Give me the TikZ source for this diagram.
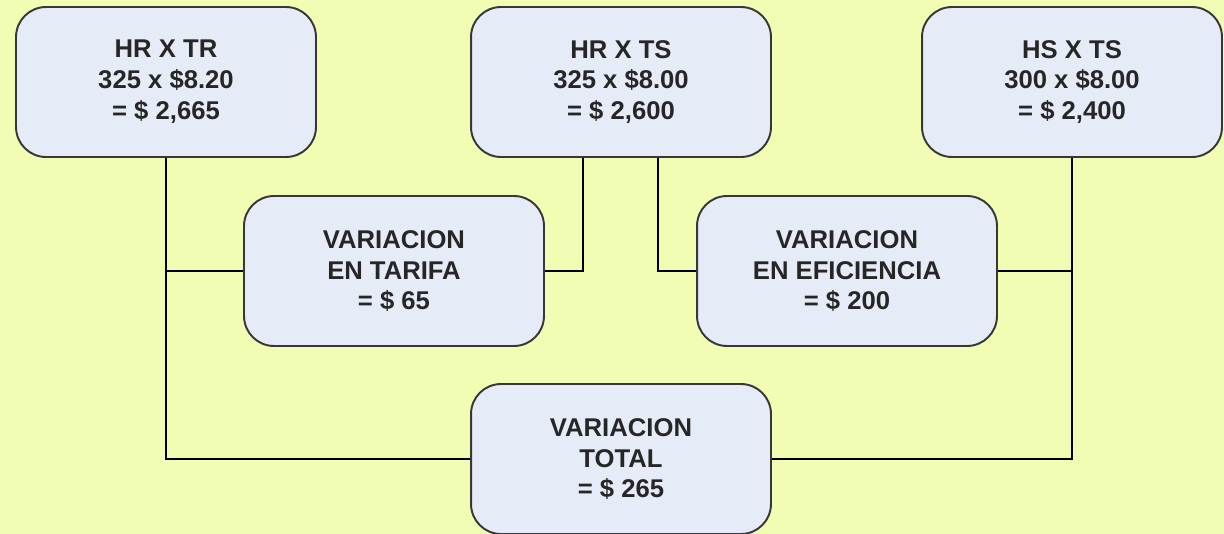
\documentclass[tikz,border=0pt]{standalone}
\usepackage{fontspec}
\setmainfont{Liberation Sans}
\usepackage{tikz}
\definecolor{Fondo}{RGB}{242,253,180}
\definecolor{LBlue}{RGB}{230,236,247}
\definecolor{DGray}{RGB}{55,55,55}
\tikzset{caja/.style={draw=DGray,fill=LBlue,line width=1.1pt,rounded corners=0.6cm,
  minimum width=6cm,minimum height=3cm,align=center,
  font=\fontsize{14.6}{17.6}\selectfont\bfseries,text=black!85},
  linea/.style={draw=black,line width=1.3pt}}

\begin{document}
\begin{tikzpicture}[x=0.02cm,y=-0.02cm]
\fill[Fondo] (0,0) rectangle (1224,534);
\useasboundingbox (0,0) rectangle (1224,534);

\node[caja] (hrtr) at (166,82) {HR X TR\\325 x \$8.20\\= \$ 2,665};
\node[caja] (hrts) at (621,82) {HR X TS\\325 x \$8.00\\= \$ 2,600};
\node[caja] (hsts) at (1072,82) {HS X TS\\300 x \$8.00\\= \$ 2,400};

\node[caja] (tarifa) at (394,271) {VARIACION\\EN TARIFA\\= \$ 65};
\node[caja] (eficiencia) at (847,271) {VARIACION\\EN EFICIENCIA\\= \$ 200};

\node[caja] (total) at (621,459) {VARIACION\\TOTAL\\= \$ 265};

\draw[linea] (hrtr.south) |- (total.west);
\draw[linea] (hrtr.south |- tarifa.west) -- (tarifa.west);
\draw[linea] ([xshift=-0.76cm]hrts.south) |- (tarifa.east);
\draw[linea] ([xshift=0.74cm]hrts.south) |- (eficiencia.west);
\draw[linea] (hsts.south) |- (total.east);
\draw[linea] (eficiencia.east) -- (eficiencia.east -| hsts.south);
\end{tikzpicture}
\end{document}
